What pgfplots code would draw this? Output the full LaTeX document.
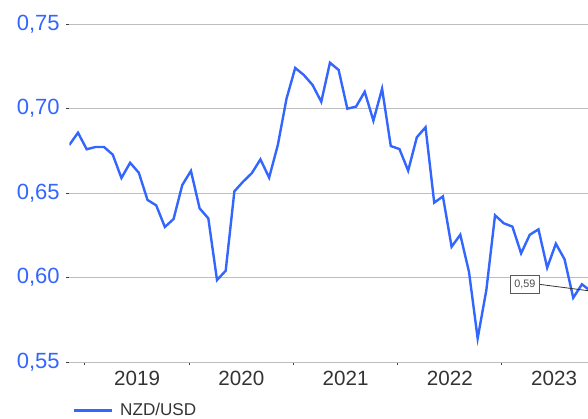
\documentclass[border=0pt]{standalone}
\usepackage{fontspec}
\setmainfont{Liberation Sans}
\usepackage{pgfplots}
\usepackage{pgfplotstable}
\pgfplotsset{compat=1.18}
\definecolor{nzdblue}{RGB}{51,102,255}
\definecolor{gridgray}{RGB}{190,190,190}
\definecolor{labelgray}{RGB}{51,51,51}

% monthly NZD/USD, k = 0 is Nov 2018
\pgfplotstableread{
k v
0 0.6784
1 0.6857
2 0.6759
3 0.6772
4 0.6772
5 0.6727
6 0.6589
7 0.6679
8 0.6620
9 0.6459
10 0.6427
11 0.6299
12 0.6346
13 0.6547
14 0.6631
15 0.6409
16 0.6350
17 0.5985
18 0.6040
19 0.6510
20 0.6567
21 0.6617
22 0.6699
23 0.6591
24 0.6784
25 0.7058
26 0.7240
27 0.7198
28 0.7139
29 0.7040
30 0.7271
31 0.7228
32 0.6999
33 0.7011
34 0.7099
35 0.6928
36 0.7117
37 0.6778
38 0.6760
39 0.6632
40 0.6830
41 0.6889
42 0.6443
43 0.6480
44 0.6182
45 0.6253
46 0.6034
47 0.5640
48 0.5926
49 0.6368
50 0.6321
51 0.6301
52 0.6143
53 0.6253
54 0.6285
55 0.6058
56 0.6200
57 0.6108
58 0.5880
59 0.5960
60 0.5920
}\nzdusd

\begin{document}
\begin{tikzpicture}
\begin{axis}[
  scale only axis, width=259.35pt, height=169pt,
  xmin=0, xmax=59.7, ymin=0.55, ymax=0.75,
  axis x line*=bottom, axis y line*=left,
  separate axis lines,
  x axis line style={draw=gridgray, line width=0.5pt, -},
  y axis line style={draw=none},
  tick align=outside, major tick length=1.6pt,
  tick style={draw=black!75, line width=0.5pt},
  ytick={0.55,0.60,0.65,0.70,0.75},
  ymajorgrids, grid style={draw=gridgray, line width=0.5pt},
  xtick={1.8,13.8,25.8,37.8,49.8}, xticklabels={},
  extra x ticks={7.8,19.8,31.8,43.8,55.8},
  extra x tick labels={2019,2020,2021,2022,2023},
  extra x tick style={major tick length=0pt, grid=none},
  xticklabel style={font=\fontsize{10.3}{12}\selectfont, text=labelgray, yshift=-1pt},
  yticklabel style={font=\fontsize{11}{13}\selectfont, text=nzdblue, inner sep=3pt},
  /pgf/number format/.cd, fixed, fixed zerofill, precision=2, use comma,
  assume math mode=true, /pgfplots/.cd,
  legend style={at={(0.006,-0.144)}, anchor=west, draw=none, fill=none,
                font=\fontsize{8.55}{10}\selectfont, text=labelgray,
                inner sep=0pt, column sep=1.5pt},
  legend image code/.code={\draw[#1] (0pt,0pt) -- (19pt,0pt);},
]
\addplot[nzdblue, line width=1.2pt] table[x=k, y=v] {\nzdusd};
\addlegendentry{NZD/USD}
\node[draw=black!65, fill=white, font=\fontsize{5.4}{6}\selectfont, text=black!70,
      inner sep=2.2pt, line width=0.4pt] (lab) at (axis cs:52.44,0.5959) {0,59};
\draw[black!80, line width=0.4pt] (lab.east) -- (axis cs:60,0.592);
\end{axis}
\pgfresetboundingbox
\path[use as bounding box] ([shift={(-34.65pt,-28pt)}]current axis.south west)
  rectangle ([shift={(0pt,12pt)}]current axis.north east);
\end{tikzpicture}
\end{document}
